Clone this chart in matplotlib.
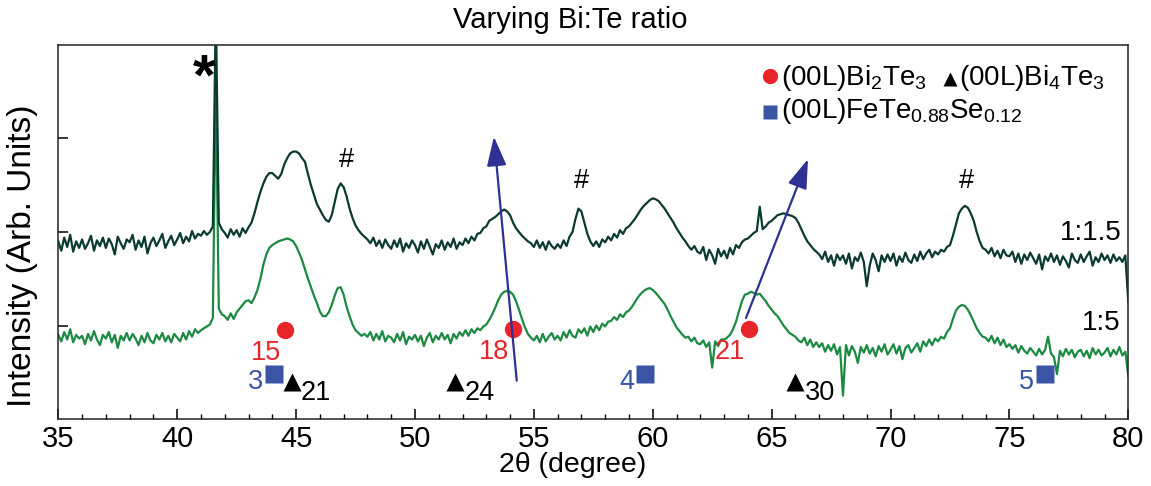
import numpy as np
import matplotlib
matplotlib.use('Agg')
import matplotlib.pyplot as plt

plt.rcParams['font.family'] = ['Liberation Sans', 'DejaVu Sans']
plt.rcParams['mathtext.fontset'] = 'custom'
plt.rcParams['mathtext.rm'] = 'Liberation Sans'
plt.rcParams['mathtext.it'] = 'Liberation Sans:italic'
plt.rcParams['mathtext.bf'] = 'Liberation Sans:bold'

# ---------------- data ----------------
two_theta_start, two_theta_stop, n_points = 35.0, 80.0, 361   # 0.125 deg sampling

# intensity of the 1:1.5 sample (offset trace), in 0.01 arb. units
ratio_1_1p5 = [
    190, 180, 194, 184, 197, 179, 190, 183,
    192, 182, 188, 196, 180, 191, 185, 194,
    183, 193, 187, 176, 195, 188, 182, 192,
    189, 197, 181, 191, 184, 195, 177, 188,
    194, 185, 191, 198, 183, 190, 196, 186,
    192, 199, 188, 195, 190, 201, 193, 198,
    196, 201, 197, 200, 206, 440, 210, 203,
    199, 194, 203, 197, 202, 195, 204, 199,
    205, 210, 220, 232, 243, 252, 259, 263,
    263, 260, 257, 262, 272, 279, 284, 286,
    286, 284, 279, 275, 262, 250, 240, 230,
    224, 218, 213, 211, 218, 232, 246, 252,
    248, 238, 225, 215, 207, 202, 198, 195,
    192, 188, 194, 185, 191, 183, 192, 186,
    182, 191, 184, 193, 179, 188, 183, 191,
    186, 178, 190, 182, 192, 184, 176, 187,
    183, 191, 181, 189, 184, 193, 182, 189,
    186, 193, 188, 195, 191, 198, 199, 204,
    206, 212, 214, 216, 219, 222, 224, 222,
    218, 210, 204, 200, 196, 193, 190, 188,
    184, 191, 183, 189, 181, 190, 185, 182,
    187, 183, 191, 185, 195, 200, 214, 225,
    222, 210, 198, 190, 185, 190, 184, 192,
    189, 195, 191, 198, 194, 202, 198, 204,
    206, 210, 214, 219, 224, 228, 231, 234,
    236, 235, 233, 229, 225, 220, 215, 210,
    204, 199, 194, 190, 185, 181, 185, 179,
    177, 184, 170, 181, 175, 166, 182, 174,
    180, 172, 183, 176, 186, 183, 189, 192,
    193, 196, 199, 201, 227, 203, 206, 210,
    212, 215, 218, 219, 220, 219, 218, 217,
    215, 210, 203, 196, 190, 186, 182, 179,
    176, 171, 179, 168, 175, 164, 176, 170,
    175, 166, 177, 161, 173, 169, 178, 168,
    142, 164, 177, 170, 158, 175, 168, 176,
    169, 177, 164, 174, 168, 178, 170, 167,
    176, 169, 179, 171, 177, 181, 173, 179,
    176, 181, 179, 184, 186, 196, 208, 220,
    225, 228, 226, 220, 212, 200, 190, 183,
    181, 177, 183, 174, 180, 172, 181, 175,
    174, 179, 168, 177, 166, 176, 170, 178,
    172, 166, 176, 160, 174, 169, 177, 168,
    175, 165, 174, 169, 162, 177, 170, 167,
    176, 168, 174, 179, 164, 173, 168, 177,
    170, 175, 167, 176, 169, 173, 168, 175,
    125,
]

# intensity of the 1:5 sample, in 0.01 arb. units
ratio_1_5 = [
    90, 83, 93, 85, 96, 82, 90, 86,
    89, 80, 91, 84, 94, 85, 79, 90,
    86, 93, 82, 90, 76, 89, 84, 92,
    84, 91, 86, 79, 89, 82, 92, 84,
    81, 90, 85, 92, 83, 89, 82, 91,
    87, 83, 92, 85, 94, 88, 96, 92,
    95, 97, 99, 101, 108, 360, 118, 112,
    110, 106, 113, 107, 114, 118, 122, 126,
    127, 124, 130, 138, 150, 165, 176, 183,
    186, 188, 190, 191, 192, 193, 192, 190,
    185, 178, 170, 160, 150, 141, 132, 124,
    115, 110, 110, 114, 122, 132, 140, 141,
    133, 120, 110, 101, 95, 92, 89, 91,
    88, 93, 84, 91, 85, 94, 83, 89,
    87, 82, 91, 84, 93, 80, 88, 85,
    90, 83, 89, 78, 87, 92, 82, 89,
    85, 92, 85, 90, 81, 91, 86, 93,
    89, 95, 89, 96, 92, 97, 95, 99,
    101, 106, 112, 119, 127, 133, 136, 137,
    136, 133, 126, 117, 107, 98, 91, 87,
    84, 89, 82, 91, 83, 88, 92, 85,
    89, 84, 93, 87, 95, 89, 87, 96,
    92, 97, 89, 99, 93, 100, 95, 102,
    99, 104, 105, 109, 106, 112, 109, 114,
    116, 120, 125, 130, 134, 137, 139, 140,
    138, 135, 131, 127, 123, 117, 110, 104,
    98, 94, 90, 87, 88, 83, 87, 81,
    80, 84, 77, 82, 55, 83, 78, 85,
    85, 87, 90, 96, 104, 115, 126, 133,
    134, 136, 135, 133, 134, 130, 126, 121,
    117, 113, 110, 105, 100, 96, 92, 90,
    88, 84, 82, 87, 79, 85, 77, 82,
    77, 81, 72, 79, 73, 80, 69, 77,
    25, 79, 68, 78, 72, 60, 77, 71,
    79, 70, 76, 67, 78, 72, 80, 69,
    74, 80, 70, 78, 64, 76, 79, 71,
    76, 81, 72, 83, 78, 85, 79, 86,
    83, 88, 86, 93, 97, 107, 116, 120,
    122, 121, 117, 111, 104, 97, 92, 88,
    87, 83, 89, 81, 87, 79, 85, 77,
    80, 75, 79, 71, 78, 73, 70, 76,
    72, 68, 75, 69, 74, 88, 70, 66,
    48, 73, 67, 75, 69, 74, 66, 72,
    74, 67, 73, 65, 76, 69, 74, 68,
    71, 76, 67, 74, 69, 77, 68, 72,
    46,
]

# reference peak markers
bi2te3_pos = [44.53, 54.12, 64.06]
bi2te3_lvl = [0.95, 0.96, 0.96]
bi2te3_idx = ['15', '18', '21']

fete_pos = [44.07, 59.67, 76.51]
fete_lvl = [0.48, 0.48, 0.48]
fete_idx = ['3', '4', '5']

bi4te3_pos = [44.83, 51.69, 66.00]
bi4te3_lvl = [0.40, 0.40, 0.40]
bi4te3_idx = ['21', '24', '30']

hash_pos = [47.10, 57.02, 73.20]
hash_lvl = [2.77, 2.55, 2.55]

star_pos, star_lvl = 41.13, 3.63

# shift arrows (start -> tip)
arrow_start = [(54.28, 0.41), (63.92, 1.08)]
arrow_tip = [(53.32, 3.02), (66.53, 2.78)]

sample_names = ['1:1.5', '1:5']

# ---------------- figure ----------------
W, H = 1151, 486
fig = plt.figure(figsize=(W / 100, H / 100), dpi=100)
L, R, T, B = 58.3, 1128.3, 45, 419
ax = fig.add_axes([L / W, 1 - B / H, (R - L) / W, (B - T) / H])

x = np.linspace(two_theta_start, two_theta_stop, n_points)
y_dark = np.array(ratio_1_1p5) / 100.0
y_green = np.array(ratio_1_5) / 100.0

c_dark = '#0b3a31'
c_green = '#1c8a42'
c_red = '#e8252b'
c_blue = '#3a55a5'
c_arrow = '#2e3192'

ax.plot(x, y_green, color=c_green, lw=1.6, zorder=2)
ax.plot(x, y_dark, color=c_dark, lw=1.6, zorder=3)

ax.set_xlim(35, 80)
ax.set_ylim(0, 4)
ax.set_xticks(np.arange(35, 81, 5))
ax.set_xticks(np.arange(35, 81, 1), minor=True)
ax.set_yticks([1, 2, 3])
ax.set_yticklabels([])
ax.tick_params(axis='x', which='major', direction='in', length=7.5, width=1.1,
               labelsize=21, pad=4, top=False)
ax.tick_params(axis='x', which='minor', direction='in', length=3.8, width=1.0, top=False)
ax.tick_params(axis='y', which='both', direction='in', length=7.5, width=1.1, right=False)
for s in ax.spines.values():
    s.set_linewidth(1.1)
    s.set_color('#222222')

PX = 0.72  # points per pixel

# Bi2Te3 markers
ax.plot(bi2te3_pos, bi2te3_lvl, 'o', color=c_red, ms=12.5, mec='none', zorder=5)
for xp, yp, t in zip(bi2te3_pos, bi2te3_lvl, bi2te3_idx):
    ax.annotate(t, (xp, yp), xytext=(-19 * PX, -23 * PX), textcoords='offset points',
                ha='center', va='center', color=c_red, fontsize=19.5, zorder=6)

# FeTeSe markers
ax.plot(fete_pos, fete_lvl, 's', color=c_blue, ms=12.5, mec='none', zorder=5)
for xp, yp, t in zip(fete_pos, fete_lvl, fete_idx):
    ax.annotate(t, (xp, yp), xytext=(-18.5 * PX, -8 * PX), textcoords='offset points',
                ha='center', va='center', color=c_blue, fontsize=19.5, zorder=6)

# Bi4Te3 markers
ax.plot(bi4te3_pos, bi4te3_lvl, '^', color='black', ms=13.5, mec='none', zorder=5)
for xp, yp, t in zip(bi4te3_pos, bi4te3_lvl, bi4te3_idx):
    ax.annotate(t, (xp, yp), xytext=(9 * PX, -11 * PX), textcoords='offset points',
                ha='left', va='center', color='black', fontsize=19.5, zorder=6)

for xp, yp in zip(hash_pos, hash_lvl):
    ax.text(xp, yp, '#', ha='center', va='center', fontsize=19.5, color='black')
ax.text(star_pos, star_lvl, '*', ha='center', va='center', fontsize=42,
        fontweight='bold', color='black')

for (x0, y0), (x1, y1) in zip(arrow_start, arrow_tip):
    ax.annotate('', xy=(x1, y1), xytext=(x0, y0),
                arrowprops=dict(arrowstyle='-|>,head_length=0.9,head_width=0.3',
                                mutation_scale=20, color=c_arrow, lw=1.6,
                                shrinkA=0, shrinkB=0),
                zorder=7)

# sample labels
def fx(px):
    return px / W

def fy(py):
    return 1 - py / H

fig.text(fx(1122), fy(240), sample_names[0], ha='right', va='baseline', fontsize=20)
fig.text(fx(1121), fy(330), sample_names[1], ha='right', va='baseline', fontsize=20)

# legend (manual)
def ax_frac(px, py):
    return ((px - L) / (R - L), (B - py) / (B - T))

ax.plot(*ax_frac(770, 76), 'o', color=c_red, ms=11, mec='none', transform=ax.transAxes,
        clip_on=False)
ax.plot(*ax_frac(950, 79), '^', color='black', ms=10.5, mec='none', transform=ax.transAxes,
        clip_on=False)
ax.plot(*ax_frac(770, 112), 's', color=c_blue, ms=10, mec='none', transform=ax.transAxes,
        clip_on=False)
fig.text(fx(781), fy(85), r'(00L)Bi$_2$Te$_3$', ha='left', va='baseline', fontsize=20)
fig.text(fx(959), fy(85), r'(00L)Bi$_4$Te$_3$', ha='left', va='baseline', fontsize=20)
fig.text(fx(781), fy(118), r'(00L)FeTe$_{0.88}$Se$_{0.12}$', ha='left', va='baseline',
         fontsize=20)

# titles
fig.text(fx(570), fy(28), 'Varying Bi:Te ratio', ha='center', va='baseline', fontsize=21)
fig.text(fx(573), fy(472), '2θ (degree)', ha='center', va='baseline', fontsize=20.5)
fig.text(fx(23), fy(256), 'Intensity (Arb. Units)', ha='center', va='center',
         rotation=90, fontsize=24)

fig.savefig('out.png', dpi=100)
